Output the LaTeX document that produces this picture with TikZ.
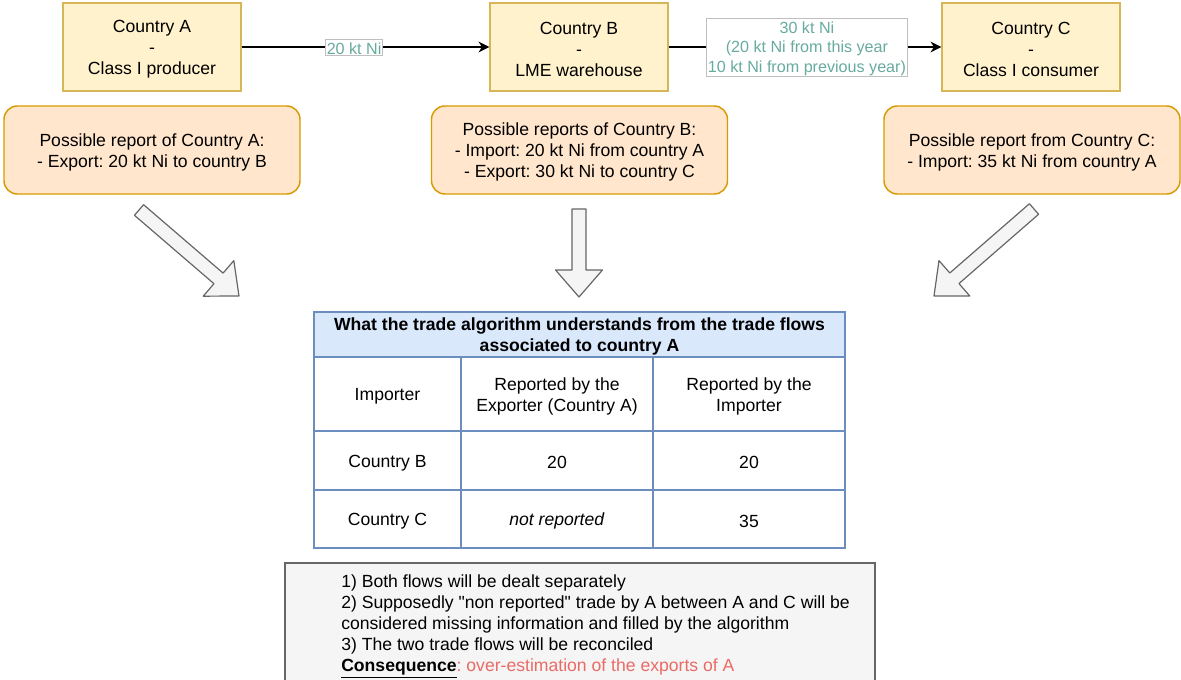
\documentclass[tikz,border=0pt]{standalone}
\usepackage{fontspec}
\setmainfont{Liberation Sans}
\usetikzlibrary{arrows.meta,calc}
\frenchspacing

\definecolor{countryfill}{HTML}{FFF2CC}
\definecolor{countrydraw}{HTML}{D6B656}
\definecolor{reportfill}{HTML}{FFE6CC}
\definecolor{reportdraw}{HTML}{D79B00}
\definecolor{flowtext}{HTML}{67AB9F}
\definecolor{tabfill}{HTML}{DAE8FC}
\definecolor{tabdraw}{HTML}{6C8EBF}
\definecolor{greyfill}{HTML}{F5F5F5}
\definecolor{greydraw}{HTML}{666666}
\definecolor{warnred}{HTML}{EA6B66}

% invisible struts that give the first text line a little more head room
\newcommand\lift{\rule{0pt}{12.6pt}}
\newcommand\liftsmall{\rule{0pt}{11.5pt}}

\tikzset{
  txt/.style={font=\fontsize{13.2}{15.8}\selectfont, align=center, text=black},
  country/.style={txt, draw=countrydraw, fill=countryfill, line width=1.1pt,
    minimum width=133.5pt, minimum height=66pt, inner sep=0pt},
  report/.style={txt, draw=reportdraw, fill=reportfill, line width=1.1pt,
    rounded corners=10pt, minimum width=222pt, minimum height=66pt, inner sep=0pt},
  flow/.style={line width=1.1pt, -{Stealth[length=8pt,width=8pt,inset=2.5pt]}},
  flowlabel/.style={font=\fontsize{12.1}{14.5}\selectfont, align=center,
    text=flowtext, fill=white, draw=black!25, line width=0.5pt,
    inner xsep=1pt, inner ysep=0.2pt},
  cell/.style={txt, draw=tabdraw, line width=1.1pt, inner sep=0pt},
  bigarrow/.style={draw=greydraw, fill=greyfill, line width=0.9pt, line join=round},
  notebox/.style={draw=greydraw, fill=greyfill, line width=1.1pt,
    minimum width=442.5pt, minimum height=102.75pt, inner sep=0pt},
}

% hollow block arrow from tail #1 to tip #2
\newcommand\drawbigarrow[2]{%
  \path ($(#2)!20.25pt!(#1)$) coordinate (ba-n);
  \draw[bigarrow] ($(#1)!5.25pt!90:(#2)$) -- ($(ba-n)!5.25pt!90:(#2)$)
    -- ($(ba-n)!17.6pt!90:(#2)$) -- (#2) -- ($(ba-n)!17.6pt!-90:(#2)$)
    -- ($(ba-n)!5.25pt!-90:(#2)$) -- ($(#1)!5.25pt!-90:(#2)$) -- cycle;}

\begin{document}
\begin{tikzpicture}[x=0.75pt,y=-0.75pt]
\useasboundingbox (0,0) rectangle (1181,680);
\clip (0,0) rectangle (1181,680);

% countries along the physical flow
\node[country] (ca) at (152,47) {\lift Country A\\-\\Class I producer};
\node[country] (cb) at (579,47) {\lift Country B\\-\\LME warehouse};
\node[country] (cc) at (1031,47) {\lift Country C\\-\\Class I consumer};

\draw[flow] (ca.east) -- node[flowlabel,pos=0.454] (lab1) {\liftsmall 20 kt Ni} (cb.west);
\draw[flow] (cb.east) -- node[flowlabel,pos=0.507] (lab2)
  {\liftsmall 30 kt Ni\\(20 kt Ni from this year\\10 kt Ni from previous year)} (cc.west);

% what each country reports
\node[report] (ra) at (152,150) {\lift Possible report of Country A:\\- Export: 20 kt Ni to country B};
\node[report] (rb) at (579.5,150) {\lift Possible reports of Country B:\\- Import: 20 kt Ni from country A\\- Export: 30 kt Ni to country C};
\node[report] (rc) at (1032,150) {\lift Possible report from Country C:\\- Import: 35 kt Ni from country A};

% block arrows towards the table
\coordinate (la-t) at (139,210); \coordinate (la-p) at (239,296);
\coordinate (ma-t) at (579,209); \coordinate (ma-p) at (579,297);
\coordinate (ra-t) at (1034,209); \coordinate (ra-p) at (934,296);
\drawbigarrow{la-t}{la-p}
\drawbigarrow{ma-t}{ma-p}
\drawbigarrow{ra-t}{ra-p}

% table
\node[cell, fill=tabfill, minimum width=398.25pt, minimum height=33.75pt] (th) at (579.5,334.5)
  {\lift\textbf{What the trade algorithm understands from the trade flows}\\\textbf{associated to country A}};
\node[cell, minimum width=110.25pt, minimum height=55.5pt] (t11) at (387.5,394) {\lift Importer};
\node[cell, minimum width=144pt, minimum height=55.5pt] (t12) at (557,394) {\lift Reported by the\\Exporter (Country A)};
\node[cell, minimum width=144pt, minimum height=55.5pt] (t13) at (749,394) {\lift Reported by the\\Importer};
\node[cell, minimum width=110.25pt, minimum height=44.25pt] (t21) at (387.5,460.5) {\lift Country B};
\node[cell, minimum width=144pt, minimum height=44.25pt] (t22) at (557,460.5) {\lift 20};
\node[cell, minimum width=144pt, minimum height=44.25pt] (t23) at (749,460.5) {\lift 20};
\node[cell, minimum width=110.25pt, minimum height=43.5pt] (t31) at (387.5,519) {\lift Country C};
\node[cell, minimum width=144pt, minimum height=43.5pt] (t32) at (557,519) {\lift\textit{not reported}};
\node[cell, minimum width=144pt, minimum height=43.5pt] (t33) at (749,519) {\lift 35};

% conclusions
\node[notebox] (notes) at (580,631.5) {};
\node[txt, align=left, anchor=north west, inner sep=0pt] (notetext) at (341,570)
  {\lift 1) Both flows will be dealt separately\\
   2) Supposedly \textquotedbl non reported\textquotedbl{} trade by A between A and C will be\\
   considered missing information and filled by the algorithm\\
   3) The two trade flows will be reconciled\\
   \underline{\textbf{Consequence}}\textcolor{warnred}{: over-estimation of the exports of A}};
\end{tikzpicture}
\end{document}
